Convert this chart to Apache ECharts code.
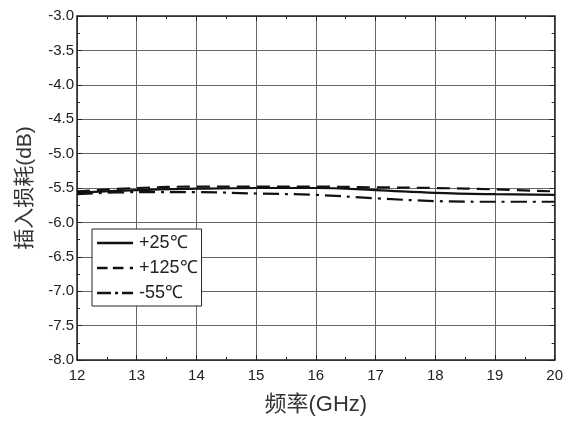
<!DOCTYPE html>
<html><head><meta charset="utf-8">
<script src="https://cdn.jsdelivr.net/npm/echarts@6/dist/echarts.min.js"></script>
<style>html,body{margin:0;padding:0;background:#fff}#c{width:566px;height:421px}</style>
</head><body><div id="c"></div>
<script>
const freq = [12, 13, 14, 15, 16, 17, 18, 19, 20];
const s25 = [-5.57, -5.53, -5.51, -5.50, -5.50, -5.53, -5.57, -5.59, -5.60];
const s125 = [-5.55, -5.50, -5.48, -5.48, -5.48, -5.49, -5.50, -5.52, -5.55];
const sm55 = [-5.59, -5.56, -5.56, -5.58, -5.60, -5.65, -5.69, -5.70, -5.70];
const names = ['+25℃', '+125℃', '-55℃'];

const pair = (arr) => freq.map((f, i) => [f, arr[i]]);
const font = 'Liberation Sans, Arial, sans-serif';
const cjk = 'Liberation Sans, "Noto Sans CJK SC", sans-serif';
const icons = [
  'path://M0,0H36V2.4H0Z',
  'path://M0,0H10V2.4H0Z M15,0H25V2.4H15Z M31,0H34V2.4H31Z',
  'path://M0,0H14V2.4H0Z M18,0H21V2.4H18Z M25,0H36V2.4H25Z'
];
const chart = echarts.init(document.getElementById('c'));
const axisCommon = {
  axisLine: {show: true, onZero: false, lineStyle: {color: '#222', width: 1.5}},
  axisTick: {show: true, inside: true, length: 5, lineStyle: {color: '#222'}},
  minorTick: {show: true, splitNumber: 2, length: 3, lineStyle: {color: '#222'}},
};
chart.setOption({
  animation: false,
  grid: {left: 77, right: 10, top: 16, bottom: 59},
  legend: {
    left: 92, top: 229, orient: 'vertical',
    itemWidth: 36, itemHeight: 14, itemGap: 7,
    padding: [5, 4, 4, 5],
    borderColor: '#222', borderWidth: 1, backgroundColor: '#fff',
    itemStyle: {color: '#111'},
    textStyle: {fontFamily: font, fontSize: 18, color: '#222', padding: [0, 0, 0, 1]},
    data: names.map((n, i) => ({name: n, icon: icons[i]}))
  },
  xAxis: [{
    type: 'value', min: 12, max: 20, interval: 1, position: 'bottom',
    ...axisCommon,
    splitLine: {show: true, lineStyle: {color: '#666', width: 1}},
    axisLabel: {fontFamily: font, fontSize: 15, color: '#222', margin: 8},
    name: '频率(GHz)', nameLocation: 'middle', nameGap: 34,
    nameTextStyle: {fontFamily: cjk, fontSize: 22, color: '#333'}
  }, {
    type: 'value', min: 12, max: 20, interval: 1, position: 'top',
    ...axisCommon, splitLine: {show: false}, axisLabel: {show: false}
  }],
  yAxis: [{
    type: 'value', min: -8, max: -3, interval: 0.5, position: 'left',
    ...axisCommon,
    splitLine: {show: true, lineStyle: {color: '#666', width: 1}},
    axisLabel: {fontFamily: font, fontSize: 15, color: '#222', margin: 3,
      formatter: v => v.toFixed(1)},
    name: '插入损耗(dB)', nameLocation: 'middle', nameGap: 41,
    nameTextStyle: {fontFamily: cjk, fontSize: 21, color: '#333'}
  }, {
    type: 'value', min: -8, max: -3, interval: 0.5, position: 'right',
    ...axisCommon, splitLine: {show: false}, axisLabel: {show: false}
  }],
  series: [
    {name: names[0], type: 'line', data: pair(s25), symbol: 'none', smooth: 0.4,
      lineStyle: {color: '#111', width: 2.2, type: 'solid'}, itemStyle: {color: '#111'}},
    {name: names[1], type: 'line', data: pair(s125), symbol: 'none', smooth: 0.4,
      lineStyle: {color: '#111', width: 2.2, type: [13, 7]}, itemStyle: {color: '#111'}},
    {name: names[2], type: 'line', data: pair(sm55), symbol: 'none', smooth: 0.4,
      lineStyle: {color: '#111', width: 2.2, type: [16, 6, 3, 6]}, itemStyle: {color: '#111'}}
  ]
});
</script></body></html>
